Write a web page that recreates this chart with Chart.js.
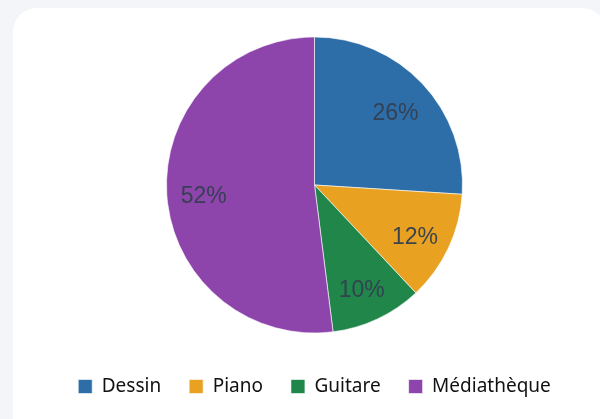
<!DOCTYPE html>
<html>
<head>
<meta charset="utf-8">
<script src="https://cdn.jsdelivr.net/npm/chart.js@4.4.1/dist/chart.umd.min.js"></script>
<style>
  html, body { margin: 0; padding: 0; background: #f4f5f9; }
  body { width: 600px; height: 419px; overflow: hidden; position: relative; }
  .card {
    position: absolute; left: 13px; top: 8px; width: 593px; height: 440px;
    background: #fff; border-radius: 24px;
  }
  .wrap { position: absolute; left: 13px; top: 8px; width: 603px; height: 411px; }
</style>
</head>
<body>
<div class="card"></div>
<div class="wrap"><canvas id="pieChart"></canvas></div>
<script>
const categories = ['Dessin', 'Piano', 'Guitare', 'Médiathèque'];
const shares = [26, 12, 10, 52];
const colors = ['#2e6ea8', '#e8a121', '#21864a', '#8d44ab'];

// percentage text inside each slice
const sliceLabels = {
  id: 'sliceLabels',
  afterDatasetsDraw(chart) {
    const ctx = chart.ctx;
    const meta = chart.getDatasetMeta(0);
    ctx.save();
    ctx.font = '23px "Liberation Sans", Arial, sans-serif';
    ctx.fillStyle = 'rgba(52, 62, 80, 0.95)';
    ctx.textAlign = 'center';
    ctx.textBaseline = 'middle';
    meta.data.forEach((arc, i) => {
      const mid = (arc.startAngle + arc.endAngle) / 2;
      const r = arc.outerRadius * 0.75;
      const x = arc.x + Math.cos(mid) * r;
      const y = arc.y + Math.sin(mid) * r + 5;
      ctx.fillText(shares[i] + '%', x, y);
    });
    ctx.restore();
  }
};

new Chart(document.getElementById('pieChart'), {
  type: 'pie',
  data: {
    labels: categories,
    datasets: [{
      data: shares,
      backgroundColor: colors,
      borderColor: 'rgba(255,255,255,0.6)',
      borderWidth: 1,
      radius: 148
    }]
  },
  options: {
    responsive: true,
    maintainAspectRatio: false,
    animation: false,
    layout: { padding: { top: 13, bottom: 13 } },
    plugins: {
      tooltip: { enabled: false },
      legend: {
        position: 'bottom',
        labels: {
          boxWidth: 14,
          boxHeight: 14,
          padding: 28,
          color: '#111',
          font: { family: '"Noto Sans", sans-serif', size: 19 }
        }
      }
    }
  },
  plugins: [sliceLabels]
});
</script>
</body>
</html>
